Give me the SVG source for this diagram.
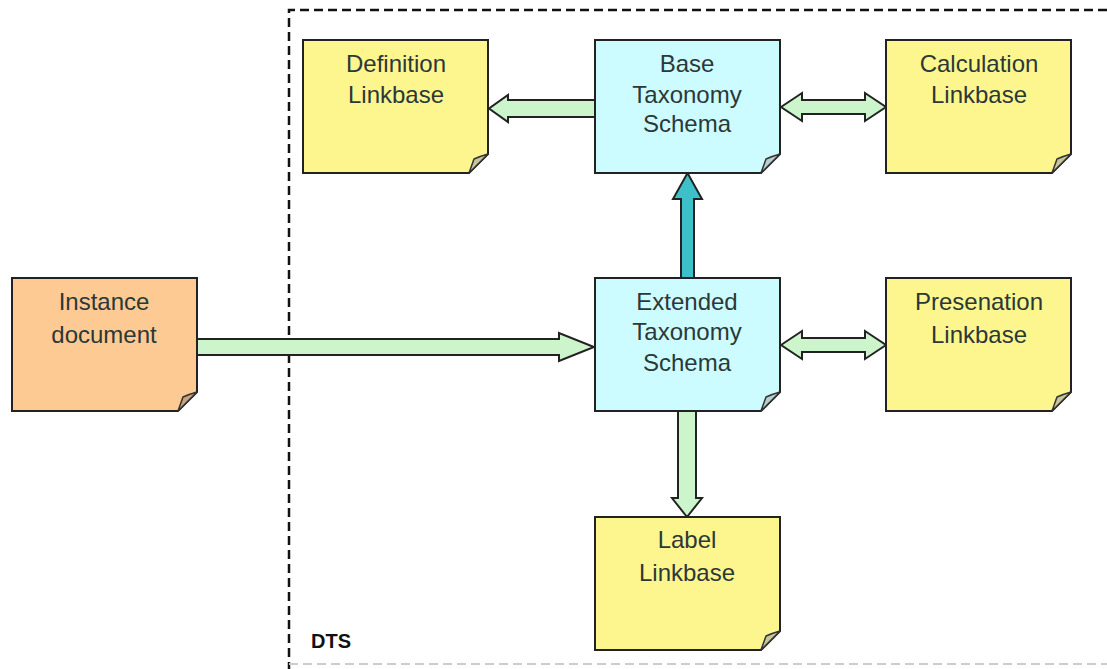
<svg xmlns="http://www.w3.org/2000/svg" width="1107" height="669" viewBox="0 0 1107 669">
<style>
.body{stroke:#222;stroke-width:2;stroke-linejoin:miter}
.yellow{fill:#fdf68f}
.cyan{fill:#ccfcff}
.orange{fill:#fdca93}
.flapY{fill:#c9c59a;stroke:#333;stroke-width:1.5;stroke-linejoin:round}
.flapC{fill:#b8cfd2;stroke:#333;stroke-width:1.5;stroke-linejoin:round}
.flapO{fill:#caa27f;stroke:#333;stroke-width:1.5;stroke-linejoin:round}
.lbl{font-family:"Liberation Sans",Arial,sans-serif;font-size:24px;fill:#2b3838;text-anchor:middle}
.arrow{fill:#ccf5cc;stroke:#222;stroke-width:2;stroke-linejoin:miter}
.teal{fill:#3ec0c8;stroke:#222;stroke-width:2;stroke-linejoin:miter}
.dash{fill:none;stroke:#111;stroke-width:2.5;stroke-dasharray:9,5}
</style>
<defs>
<path id="note" d="M0,0 H185 V114 L166,133 H0 Z"/>
<path id="flap" d="M166,133 L171,119 Q178,116 185,114 Z"/>
</defs>
<rect width="1107" height="669" fill="#ffffff"/>

<g id="dts-boundary">
<path class="dash" d="M1107,10 H289 V669"/>
<path d="M289,664 H1107" fill="none" stroke="#cccccc" stroke-width="2" stroke-dasharray="9,5"/>
<text x="311" y="648" font-family="Liberation Sans,Arial,sans-serif" font-size="20" font-weight="bold" fill="#111">DTS</text>
</g>

<g id="connectors">
<polygon class="arrow" points="595,100 508,100 508,95 489,108.5 508,122 508,117 595,117"/>
<polygon class="arrow" points="781,107 802,93 802,100 865,100 865,93 886,107 865,121 865,114 802,114 802,121"/>
<polygon class="arrow" points="781,345 802,331 802,338 865,338 865,331 886,345 865,359 865,352 802,352 802,359"/>
<polygon class="arrow" points="194,339 559,339 559,333 594,347 559,361 559,355 194,355"/>
<polygon class="teal" points="681,279 681,199 673,199 687.5,173 702,199 694,199 694,279"/>
<polygon class="arrow" points="678,410 678,498 672,498 687,517 702,498 696,498 696,410"/>
</g>

<g id="definition-linkbase" transform="translate(303,40)">
<use href="#note" class="body yellow"/>
<use href="#flap" class="flapY"/>
<text class="lbl" x="93" y="32">Definition</text>
<text class="lbl" x="93" y="63">Linkbase</text>
</g>

<g id="base-taxonomy-schema" transform="translate(595,40)">
<use href="#note" class="body cyan"/>
<use href="#flap" class="flapC"/>
<text class="lbl" x="92" y="32">Base</text>
<text class="lbl" x="92" y="63">Taxonomy</text>
<text class="lbl" x="92" y="92">Schema</text>
</g>

<g id="calculation-linkbase" transform="translate(886,40)">
<use href="#note" class="body yellow"/>
<use href="#flap" class="flapY"/>
<text class="lbl" x="93" y="32">Calculation</text>
<text class="lbl" x="93" y="63">Linkbase</text>
</g>

<g id="instance-document" transform="translate(12,278)">
<use href="#note" class="body orange"/>
<use href="#flap" class="flapO"/>
<text class="lbl" x="92" y="32">Instance</text>
<text class="lbl" x="92" y="65">document</text>
</g>

<g id="extended-taxonomy-schema" transform="translate(595,278)">
<use href="#note" class="body cyan"/>
<use href="#flap" class="flapC"/>
<text class="lbl" x="92" y="32">Extended</text>
<text class="lbl" x="92" y="62">Taxonomy</text>
<text class="lbl" x="92" y="93">Schema</text>
</g>

<g id="presentation-linkbase" transform="translate(886,278)">
<use href="#note" class="body yellow"/>
<use href="#flap" class="flapY"/>
<text class="lbl" x="93" y="32">Presenation</text>
<text class="lbl" x="93" y="65">Linkbase</text>
</g>

<g id="label-linkbase" transform="translate(595,517)">
<use href="#note" class="body yellow"/>
<use href="#flap" class="flapY"/>
<text class="lbl" x="92" y="31">Label</text>
<text class="lbl" x="92" y="64">Linkbase</text>
</g>
</svg>
